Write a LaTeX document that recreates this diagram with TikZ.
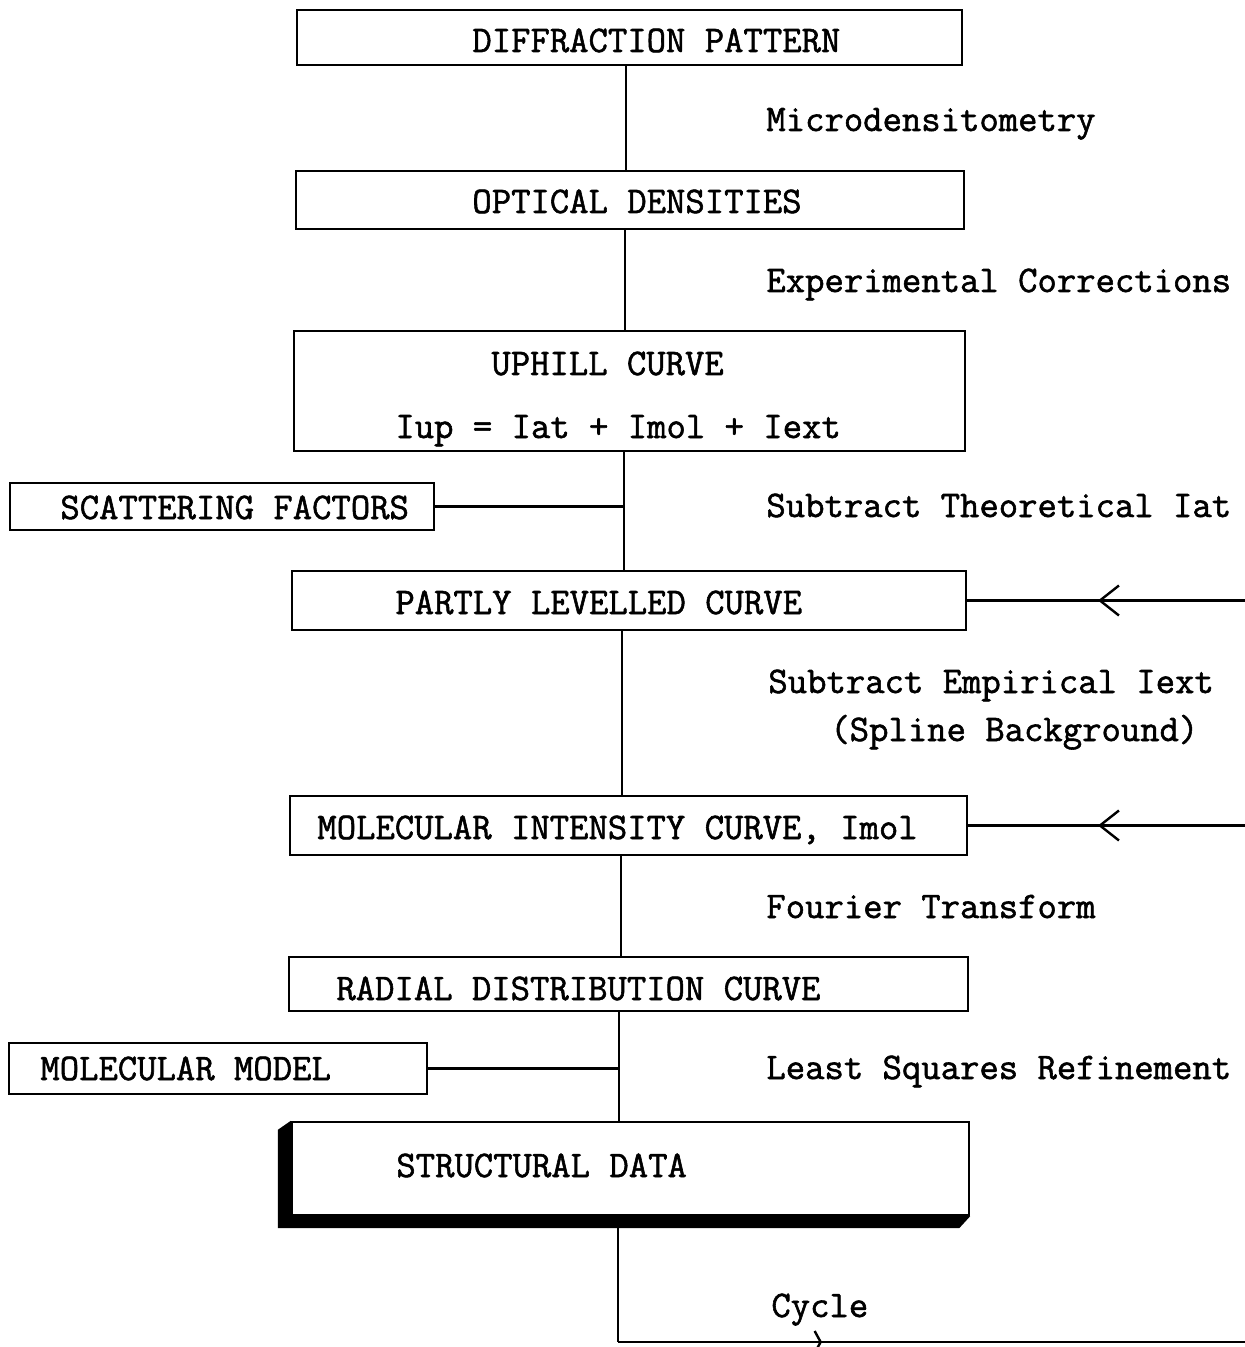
\documentclass[tikz,border=0pt]{standalone}
\usepackage{fontspec}
\usepackage{tikz}
\usetikzlibrary{arrows.meta,calc}
\usetikzlibrary{decorations.markings}
\newfontfamily\tw{Latin Modern Mono}[FakeBold=1.5]
\tikzset{
    box/.style={draw, line width=1.2pt, inner sep=0pt},
    txt/.style={inner sep=0pt, anchor=base west, font=\tw\fontsize{18.8}{20}\selectfont},
    wire/.style={line width=1.2pt},
    feed/.style={wire, postaction=decorate, decoration={markings,
      mark=at position #1 with {\arrow{Straight Barb[length=9.5pt,width=15pt,line width=1.2pt]}}}}}

\begin{document}
\begin{tikzpicture}[x=0.5pt,y=-0.5pt]
\useasboundingbox (0,0) rectangle (1245,1347);

% boxes
\node[box, minimum width=332.5pt, minimum height=27.5pt] (diff) at (629.5,37.5) {};
\node[box, minimum width=334pt, minimum height=29pt] (optd) at (630,200) {};
\node[box, minimum width=335.5pt, minimum height=60pt] (uphill) at (629.5,391) {};
\node[box, minimum width=212pt, minimum height=23.5pt] (scat) at (222,506.5) {};
\node[box, minimum width=337pt, minimum height=29.5pt] (partly) at (629,600.5) {};
\node[box, minimum width=338.5pt, minimum height=29.5pt] (molint) at (628.5,825.5) {};
\node[box, minimum width=339.5pt, minimum height=27pt] (radial) at (628.5,984) {};
\node[box, minimum width=209pt, minimum height=25.5pt] (model) at (218,1068.5) {};
\node[box, minimum width=338.5pt, minimum height=46.5pt] (struct) at (630.5,1168.5) {};
% heavy edge of the last box
\fill (struct.north west) -- ++(-13,9) -- ($(struct.south west)+(-13,12)$)
  -- ($(struct.south east)+(-11,12)$) -- (struct.south east)
  -- (struct.south west) -- cycle;

% box texts
\node[txt] (diffT) at (472,52) {DIFFRACTION PATTERN};
\node[txt] (optdT) at (472,213) {OPTICAL DENSITIES};
\node[txt] (uphillT) at (491,375) {UPHILL CURVE};
\node[txt] (uphillEq) at (395,438) {Iup = Iat + Imol + Iext};
\node[txt] (scatT) at (60,519) {SCATTERING FACTORS};
\node[txt] (partlyT) at (395,614) {PARTLY LEVELLED CURVE};
\node[txt] (molintT) at (317,839) {MOLECULAR INTENSITY CURVE, Imol};
\node[txt] (radialT) at (336,1000) {RADIAL DISTRIBUTION CURVE};
\node[txt] (modelT) at (40,1080) {MOLECULAR MODEL};
\node[txt] (structT) at (396,1177) {STRUCTURAL DATA};

% step labels
\node[txt] (lMicro) at (766,131) {Microdensitometry};
\node[txt] (lExp) at (766,292) {Experimental Corrections};
\node[txt] (lTheo) at (766,517) {Subtract Theoretical Iat};
\node[txt] (lEmp) at (768,693) {Subtract Empirical Iext};
\node[txt] (lSpline) at (830,741) {(Spline Background)};
\node[txt] (lFour) at (766,918) {Fourier Transform};
\node[txt] (lLsq) at (766,1079) {Least Squares Refinement};
\node[txt] (lCycle) at (771,1317) {Cycle};

% trunk
\coordinate (c1) at (626,0);
\coordinate (c2) at (625,0);
\coordinate (c3) at (624,0);
\coordinate (c4) at (622,0);
\coordinate (c5) at (621,0);
\coordinate (c6) at (619,0);
\coordinate (c7) at (618,0);
\draw[wire] (diff.south -| c1) -- (optd.north -| c1);
\draw[wire] (optd.south -| c2) -- (uphill.north -| c2);
\draw[wire] (uphill.south -| c3) -- (partly.north -| c3);
\draw[wire] (partly.south -| c4) -- (molint.north -| c4);
\draw[wire] (molint.south -| c5) -- (radial.north -| c5);
\draw[wire] (radial.south -| c6) -- (struct.north -| c6);
\draw[wire] (scat.east) -- (scat.east -| c3);
\draw[wire] (model.east) -- (model.east -| c6);

% inputs from the right
\coordinate (inA) at (1245,600.5);
\coordinate (inB) at (1245,825.5);
\draw[feed=73.5pt] (inA) -- (partly.east);
\draw[feed=73.5pt] (inB) -- (molint.east);

% cycle
\coordinate (cyc) at (618,1342);
\coordinate (cycEnd) at (1245,1342);
\draw[wire] ($(struct.south -| c7)+(0,12)$) -- (cyc);
\draw[wire, postaction=decorate, decoration={markings,
  mark=at position 102pt with {\arrow{Straight Barb[length=3pt,width=11pt,line width=1.2pt]}}}] (cyc) -- (cycEnd);
\end{tikzpicture}
\end{document}
